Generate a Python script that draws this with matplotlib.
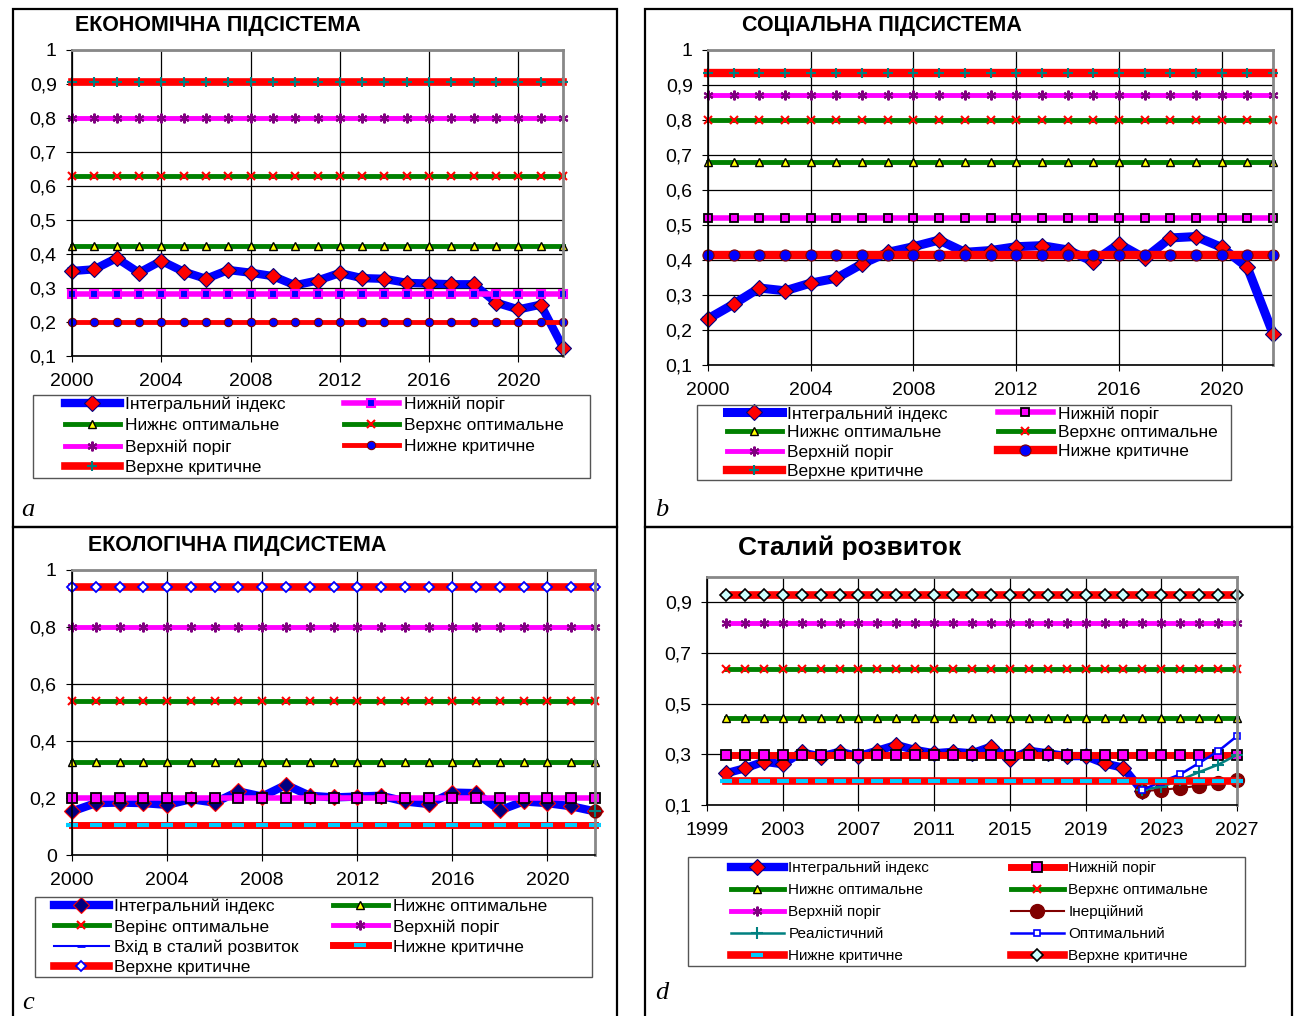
import matplotlib
matplotlib.use('Agg')
import matplotlib.pyplot as plt
from matplotlib.patches import Rectangle
from matplotlib.ticker import FuncFormatter

plt.rcParams['font.family'] = ['Liberation Sans', 'DejaVu Sans']

W, H = 1294, 1016

# --- дані ---
years = list(range(2000, 2023))
years_d = list(range(2000, 2028))
years_fc = list(range(2022, 2028))

# a: економічна підсистема
econ_index = [0.350, 0.355, 0.388, 0.345, 0.380, 0.348, 0.327, 0.353, 0.345, 0.335,
              0.308, 0.322, 0.344, 0.329, 0.327, 0.315, 0.313, 0.311, 0.311, 0.257,
              0.237, 0.251, 0.125]
# нижній поріг, нижнє опт., верхнє опт., верхній поріг, нижне крит., верхне крит.
econ_levels = [0.283, 0.425, 0.630, 0.800, 0.200, 0.905]

# b: соціальна підсистема
soc_index = [0.232, 0.274, 0.320, 0.312, 0.334, 0.348, 0.389, 0.422, 0.438, 0.457,
             0.422, 0.427, 0.438, 0.441, 0.429, 0.395, 0.446, 0.405, 0.463, 0.467,
             0.436, 0.379, 0.190]
soc_levels = [0.520, 0.680, 0.800, 0.872, 0.414, 0.933]

# c: екологічна підсистема
eco_index = [0.153, 0.182, 0.184, 0.182, 0.176, 0.196, 0.184, 0.223, 0.205, 0.246,
             0.208, 0.202, 0.205, 0.208, 0.188, 0.179, 0.219, 0.217, 0.157, 0.188,
             0.182, 0.171, 0.153]
eco_levels = [0.200, 0.327, 0.542, 0.800, 0.105, 0.941]
eco_entry = 0.155

# d: сталий розвиток
sd_index = [0.225, 0.245, 0.271, 0.261, 0.308, 0.291, 0.310, 0.293, 0.314, 0.337,
            0.317, 0.304, 0.310, 0.304, 0.330, 0.280, 0.314, 0.304, 0.293, 0.293,
            0.264, 0.247, 0.155]
sd_levels = [0.297, 0.442, 0.637, 0.820, 0.195, 0.928]
sd_inertial = [0.155, 0.160, 0.167, 0.176, 0.185, 0.198]
sd_realistic = [0.160, 0.172, 0.198, 0.230, 0.259, 0.298]
sd_optimal = [0.160, 0.192, 0.221, 0.266, 0.312, 0.372]

labels_c = ['Інтегральний індекс', 'Нижнє оптимальне', 'Верінє оптимальне', 'Верхній поріг',
            'Вхід в сталий розвиток', 'Нижне критичне', 'Верхне критичне']
labels_d = ['Інтегральний індекс', 'Нижній поріг', 'Нижнє оптимальне', 'Верхнє оптимальне',
            'Верхній поріг', 'Інерційний', 'Реалістичний', 'Оптимальний',
            'Нижне критичне', 'Верхне критичне']

BLUE = '#0000ff'
RED = '#ff0000'
GREEN = '#008000'
MAG = '#ff00ff'
PURP = '#800080'
TEAL = '#008080'
NAVY = '#000080'
CYAN = '#00ccff'
STAR = (6, 2, 0)


def box(x0, y0, x1, y1):
    return [x0 / W, 1 - y1 / H, (x1 - x0) / W, (y1 - y0) / H]


def comma(v, pos):
    if abs(v - round(v)) < 1e-9:
        return str(int(round(v)))
    return f'{v:.1f}'.replace('.', ',')


def style(ax, xlim, xticks, ylim, yticks):
    ax.set_xlim(*xlim)
    ax.set_ylim(*ylim)
    ax.set_xticks(xticks)
    ax.set_yticks(yticks)
    ax.yaxis.set_major_formatter(FuncFormatter(comma))
    ax.grid(True, color='black', lw=0.9)
    ax.set_axisbelow(True)
    for s in ['top', 'right']:
        ax.spines[s].set_color('#888888')
        ax.spines[s].set_linewidth(2)
    for s in ['left', 'bottom']:
        ax.spines[s].set_color('black')
        ax.spines[s].set_linewidth(1.2)
    ax.tick_params(direction='out', length=4, labelsize=14)
    ax.tick_params(axis='x', pad=8)
    ax.tick_params(axis='y', pad=7)


def hline(ax, x, v, **kw):
    ax.plot(x, [v] * len(x), clip_on=False, **kw)


def legend(ax, frame, col_x, top_y, fs, spacing, hl):
    # рамка легенди
    x0, y0, x1, y1 = frame
    fig.add_artist(Rectangle((x0 / W, 1 - y1 / H), (x1 - x0) / W, (y1 - y0) / H,
                             transform=fig.transFigure, fill=False, ec='#555555', lw=1.0))
    h, l = ax.get_legend_handles_labels()
    cols = [(h[0::2], l[0::2]), (h[1::2], l[1::2])]
    for i, ((hh, ll), x) in enumerate(zip(cols, col_x)):
        leg = ax.legend(hh, ll, loc='upper left', bbox_to_anchor=(x / W, 1 - top_y / H),
                        bbox_transform=fig.transFigure, frameon=False, borderpad=0,
                        borderaxespad=0, fontsize=fs, handlelength=hl, handletextpad=0.3,
                        labelspacing=spacing)
        if i == 0:
            ax.add_artist(leg)


fig = plt.figure(figsize=(W / 100, H / 100), dpi=100)

# рамки панелей
for (x0, y0, x1, y1) in [(13, 9, 617, 527), (645, 9, 1292, 527),
                         (13, 527, 617, 1020), (645, 527, 1292, 1020)]:
    fig.add_artist(Rectangle((x0 / W, 1 - y1 / H), (x1 - x0) / W, (y1 - y0) / H,
                             transform=fig.transFigure, fill=False, ec='black', lw=1.6))


def threshold_set(ax, x, lv, lower_crit_style, upper_crit_style, low_thr_style):
    hline(ax, x, lv[0], label='Нижній поріг', **low_thr_style)
    hline(ax, x, lv[1], label='Нижнє оптимальне', color=GREEN, lw=3.5, marker='^', ms=5.5,
          mfc='#ffff00', mec='black', mew=1.0)
    hline(ax, x, lv[2], label='Верхнє оптимальне', color=GREEN, lw=3.5, marker='x', ms=6,
          mec=RED, mew=1.5)
    hline(ax, x, lv[3], label='Верхній поріг', color=MAG, lw=3.5, marker=STAR, ms=7,
          mec=PURP, mew=1.5)
    hline(ax, x, lv[4], label='Нижне критичне', **lower_crit_style)
    hline(ax, x, lv[5], label='Верхне критичне', **upper_crit_style)


# --- a ---
ax = fig.add_axes(box(72, 50, 563, 356))
ax.plot(years, econ_index, color=BLUE, lw=6, marker='D', ms=8.5, mfc=RED, mec=NAVY, mew=0.8,
        label='Інтегральний індекс', clip_on=False)
threshold_set(ax, years, econ_levels,
              dict(color=RED, lw=3.5, marker='o', ms=6, mfc=BLUE, mec='#800000', mew=0.8),
              dict(color=RED, lw=5.5, marker='+', ms=7, mec=TEAL, mew=1.5),
              dict(color=MAG, lw=4, marker='s', ms=6, mfc=BLUE, mec=MAG, mew=1.5))
style(ax, (2000, 2022), range(2000, 2021, 4), (0.1, 1.0), [0.1 * i for i in range(1, 11)])
ax.text(75 / W, 1 - 26 / H, 'ЕКОНОМІЧНА ПІДСІСТЕМА', transform=fig.transFigure,
        fontsize=15.5, fontweight='bold', va='center', ha='left')
legend(ax, (33, 395, 590, 478), (65, 344), 397, 12.5, 0.33, 3.15)

# --- b ---
ax = fig.add_axes(box(708, 50, 1273, 365))
ax.plot(years, soc_index, color=BLUE, lw=6.5, marker='D', ms=8.5, mfc=RED, mec=NAVY, mew=0.8,
        label='Інтегральний індекс', clip_on=False)
threshold_set(ax, years, soc_levels,
              dict(color=RED, lw=6, marker='o', ms=8, mfc=BLUE, mec='#800000', mew=0.8),
              dict(color=RED, lw=6, marker='+', ms=7, mec=TEAL, mew=1.5),
              dict(color=MAG, lw=4, marker='s', ms=6, mfc=MAG, mec='black', mew=1.3))
style(ax, (2000, 2022), range(2000, 2021, 4), (0.1, 1.0), [0.1 * i for i in range(1, 11)])
ax.text(742 / W, 1 - 26 / H, 'СОЦІАЛЬНА ПІДСИСТЕМА', transform=fig.transFigure,
        fontsize=15.5, fontweight='bold', va='center', ha='left')
legend(ax, (697, 405, 1231, 480), (727, 998), 406, 12.5, 0.22, 3.15)

# --- c ---
ax = fig.add_axes(box(72, 570, 595, 855))
ax.plot(years, eco_index, color=BLUE, lw=6, marker='D', ms=8.5, mfc=NAVY, mec=RED, mew=0.8,
        label=labels_c[0], clip_on=False)
hline(ax, years, eco_levels[1], label=labels_c[1], color=GREEN, lw=3.5, marker='^', ms=5.5,
      mfc='#ffff00', mec='black', mew=1.0)
hline(ax, years, eco_levels[2], label=labels_c[2], color=GREEN, lw=3.5, marker='x', ms=6,
      mec=RED, mew=1.5)
hline(ax, years, eco_levels[3], label=labels_c[3], color=MAG, lw=3.5, marker=STAR, ms=7,
      mec=PURP, mew=1.5)
ax.plot([years[-1]], [eco_entry], color=BLUE, lw=1.5, marker='_', ms=6, mec=BLUE, mew=2,
        label=labels_c[4], clip_on=False, zorder=1)
hline(ax, years, eco_levels[4], label=labels_c[5], color=RED, lw=5, marker='_', ms=8,
      mec=CYAN, mew=3)
hline(ax, years, eco_levels[5], label=labels_c[6], color=RED, lw=5.5, marker='D', ms=5,
      mfc='white', mec=BLUE, mew=1.3)
hline(ax, years, eco_levels[0], color=MAG, lw=4, marker='s', ms=7, mfc=MAG, mec='black', mew=1.3)
ax.plot([years[-1]], [eco_entry], marker='o', ms=9, mfc='#800000', mec='#800000',
        clip_on=False, zorder=5)
ax.plot([years[-1]], [eco_entry], marker='+', ms=8, mec=TEAL, mew=1.5, clip_on=False, zorder=6)
style(ax, (2000, 2022), range(2000, 2021, 4), (0, 1.0), [0.2 * i for i in range(6)])
ax.text(88 / W, 1 - 545 / H, 'ЕКОЛОГІЧНА ПИДСИСТЕМА', transform=fig.transFigure,
        fontsize=15.5, fontweight='bold', va='center', ha='left')
legend(ax, (35, 897, 592, 977), (54, 333), 899, 12.5, 0.28, 3.15)

# --- d ---
ax = fig.add_axes(box(707, 577, 1237, 805))
ax.plot(years, sd_index, color=BLUE, lw=6, marker='D', ms=8, mfc=RED, mec=NAVY, mew=0.8,
        label=labels_d[0], clip_on=False)
hline(ax, years_d, sd_levels[0], label=labels_d[1], color=RED, lw=5, marker='s', ms=6.5,
      mfc=MAG, mec='black', mew=1.3)
hline(ax, years_d, sd_levels[1], label=labels_d[2], color=GREEN, lw=3.5, marker='^', ms=5.5,
      mfc='#ffff00', mec='black', mew=1.0)
hline(ax, years_d, sd_levels[2], label=labels_d[3], color=GREEN, lw=3.5, marker='x', ms=6,
      mec=RED, mew=1.5)
hline(ax, years_d, sd_levels[3], label=labels_d[4], color=MAG, lw=3.5, marker=STAR, ms=7,
      mec=PURP, mew=1.5)
ax.plot(years_fc, sd_inertial, color='#800000', lw=1.5, marker='o', ms=10, mfc='#800000',
        mec='#800000', label=labels_d[5], clip_on=False)
ax.plot(years_fc, sd_realistic, color=TEAL, lw=1.8, marker='+', ms=8, mec=TEAL, mew=1.5,
        label=labels_d[6], clip_on=False)
ax.plot(years_fc, sd_optimal, color=BLUE, lw=1.8, marker='s', ms=4, mfc='white', mec=BLUE,
        mew=1.2, label=labels_d[7], clip_on=False)
hline(ax, years_d, sd_levels[4], label=labels_d[8], color=RED, lw=5.5, marker='_', ms=9,
      mec=CYAN, mew=3)
hline(ax, years_d, sd_levels[5], label=labels_d[9], color=RED, lw=5.5, marker='D', ms=6,
      mfc='#ccffff', mec='black', mew=1.2)
style(ax, (1999, 2027), range(1999, 2028, 4), (0.1, 1.0), [0.1, 0.3, 0.5, 0.7, 0.9])
ax.text(738 / W, 1 - 548 / H, 'Сталий розвиток', transform=fig.transFigure,
        fontsize=19, fontweight='bold', va='center', ha='left')
legend(ax, (688, 857, 1245, 966), (731, 1011), 861, 11, 0.53, 3.45)

# літери панелей
for x, y, s in [(28, 510, 'a'), (662, 510, 'b'), (28, 1003, 'c'), (662, 993, 'd')]:
    fig.text(x / W, 1 - y / H, s, family='Liberation Serif', style='italic', fontsize=19,
             va='center', ha='center')

fig.savefig('out.png', dpi=100)
